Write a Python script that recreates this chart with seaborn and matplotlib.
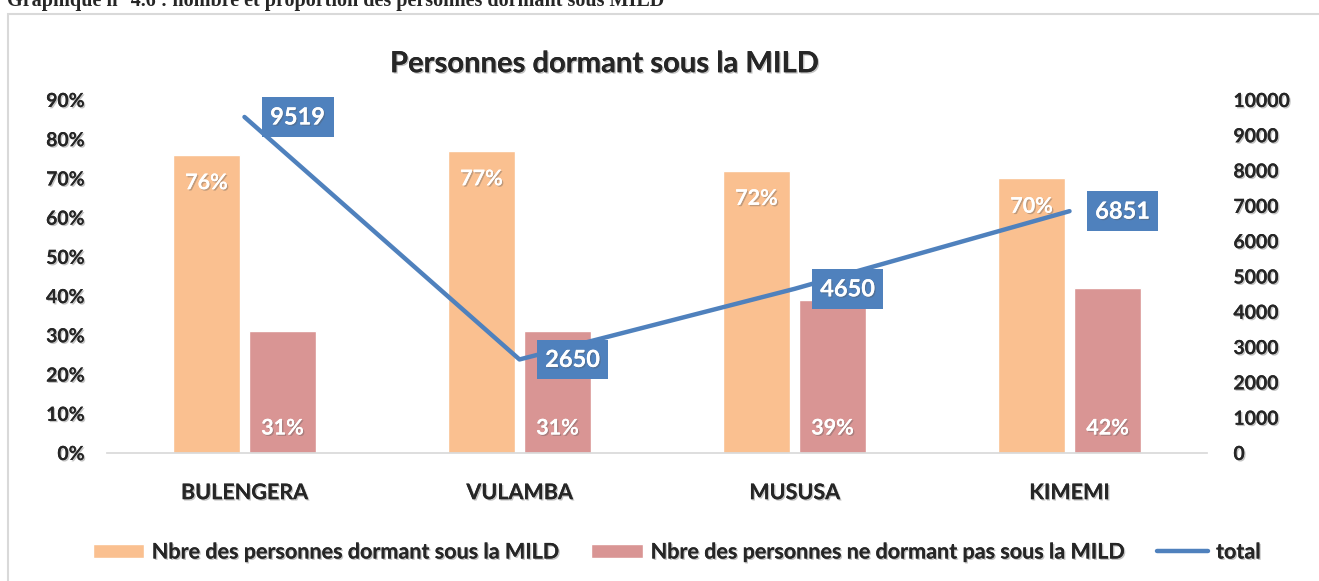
import numpy as np
import pandas as pd
import seaborn as sns
import matplotlib.pyplot as plt
import matplotlib.patheffects as pe
from matplotlib.patches import Rectangle

sns.set_theme(style="white")
plt.rcParams['font.family'] = ['Lato', 'DejaVu Sans']

# data
zones = ['BULENGERA', 'VULAMBA', 'MUSUSA', 'KIMEMI']
dormant = [76, 77, 72, 70]
non_dormant = [31, 31, 39, 42]
total = [9519, 2650, 4650, 6851]
serie_1 = 'Nbre des personnes dormant sous la MILD'
serie_2 = 'Nbre des personnes ne dormant pas sous la MILD'

c_orange = '#FAC090'
c_rose = '#D99594'
c_bleu = '#4F81BD'

df = pd.DataFrame({'zone': zones * 2,
                   'pct': dormant + non_dormant,
                   'serie': [serie_1] * 4 + [serie_2] * 4})
df_tot = pd.DataFrame({'pos': np.arange(len(zones)), 'total': total})

shadow = [pe.withSimplePatchShadow(offset=(1, -1), alpha=0.35, shadow_rgbFace='#555555'), pe.Normal()]

fig = plt.figure(figsize=(13.19, 5.81), dpi=100)
ax = fig.add_axes([0.0811, 0.2203, 0.834, 0.6076])

sns.barplot(data=df, x='zone', y='pct', hue='serie', order=zones,
            palette=[c_orange, c_rose], width=0.553, gap=0.12,
            saturation=1, legend=False, ax=ax)
ax.set_ylim(0, 90)
ax.set_xlim(-0.5, len(zones) - 0.5)
ax.set_yticks(range(0, 91, 10))
ax.set_yticklabels([f'{v}%' for v in range(0, 91, 10)])
ax.set_xlabel('')
ax.set_ylabel('')

# labels on bars
cont_1, cont_2 = ax.containers[0], ax.containers[1]
for bar, v in zip(cont_1, dormant):
    ax.annotate(f'{v}%', (bar.get_x() + bar.get_width() / 2, bar.get_height()),
                xytext=(0, -20), textcoords='offset points', ha='center', va='center',
                color='white', fontsize=15.5, fontweight='bold', path_effects=shadow)
for bar, v in zip(cont_2, non_dormant):
    ax.annotate(f'{v}%', (bar.get_x() + bar.get_width() / 2, 0),
                xytext=(0, 18), textcoords='offset points', ha='center', va='center',
                color='white', fontsize=15.5, fontweight='bold', path_effects=shadow)

ax2 = ax.twinx()
sns.lineplot(data=df_tot, x='pos', y='total', color=c_bleu, lw=3.2, ax=ax2)
ax2.set_ylim(0, 10000)
ax2.set_yticks(range(0, 10001, 1000))
ax2.set_ylabel('')
ax2.set_xlim(-0.5, len(zones) - 0.5)
for i, v in enumerate(total):
    ax2.annotate(str(v), (i, v), xytext=(18.5, 0), textcoords='offset points',
                 ha='left', va='center', color='white', fontsize=17, fontweight='bold',
                 bbox=dict(boxstyle='square,pad=0.35', fc=c_bleu, ec='none'),
                 path_effects=shadow)

for a in (ax, ax2):
    for s in a.spines.values():
        s.set_visible(False)
    a.tick_params(length=0, labelsize=14)
    for lab in a.get_yticklabels():
        lab.set_fontweight('bold')
        lab.set_path_effects(shadow)
ax.spines['bottom'].set_visible(True)
ax.spines['bottom'].set_color('#D9D9D9')
ax.tick_params(axis='y', pad=16)
ax2.tick_params(axis='y', pad=19)
ax.tick_params(axis='x', pad=21)
for lab in ax.get_xticklabels():
    lab.set_fontweight('bold')
    lab.set_fontsize(15.5)
    lab.set_path_effects(shadow)

ax.set_title('Personnes dormant sous la MILD', fontsize=21, fontweight='bold',
             x=0.452, y=1.0, pad=20, path_effects=shadow)

# legend
handles = [Rectangle((0, 0), 1, 1, fc=c_orange), Rectangle((0, 0), 1, 1, fc=c_rose),
           plt.Line2D([0], [0], color=c_bleu, lw=3.2)]
leg = fig.legend(handles, [serie_1, serie_2, 'total'], loc='center',
                 bbox_to_anchor=(0.513, 1 - 552 / 581), ncol=3, frameon=False,
                 prop={'weight': 'bold', 'size': 15.5}, handlelength=2.4,
                 handleheight=0.6, columnspacing=1.5, handletextpad=0.35)
for t in leg.get_texts():
    t.set_path_effects(shadow)

# chart frame and document caption (cut off at the top, as in the source page)
fig.patches.append(Rectangle((8 / 1319, -0.1), 1.2, 1 - 14 / 581 + 0.1, transform=fig.transFigure,
                             fill=False, ec='#D9D9D9', lw=1.5))
fig.text(7 / 1319, 1 - 6 / 581, 'Graphique n° 4.6 : nombre et proportion des personnes dormant sous MILD',
         family='Liberation Serif', fontweight='bold', fontsize=14.5, va='baseline', ha='left')

fig.savefig('out.png', dpi=100)
